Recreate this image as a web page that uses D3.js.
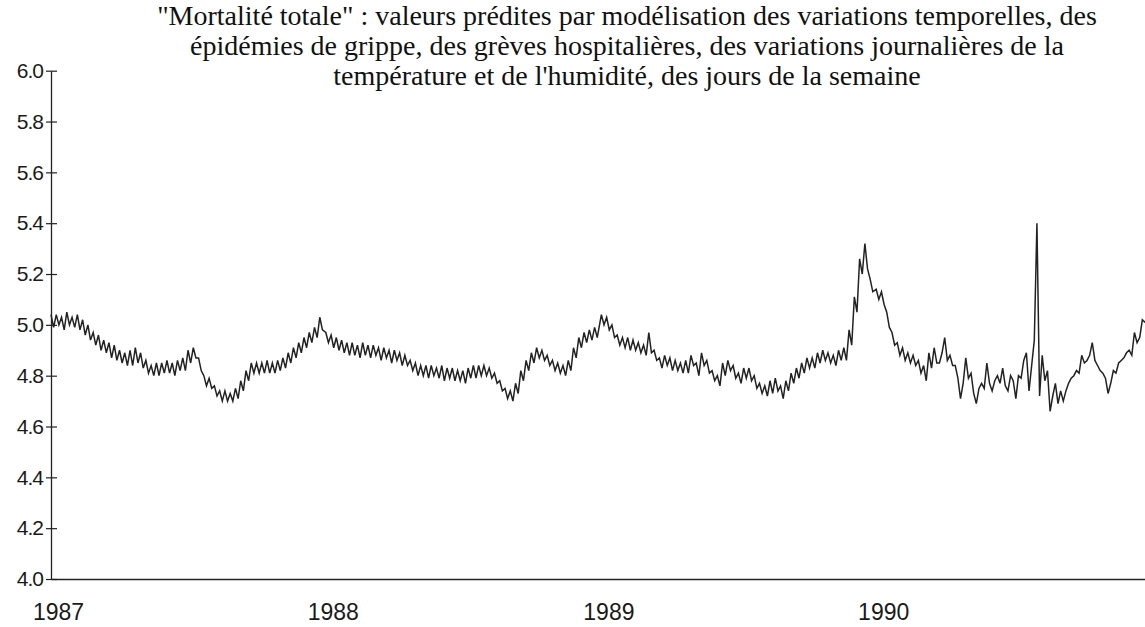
<!DOCTYPE html>
<html><head><meta charset="utf-8">
<script src="https://cdn.jsdelivr.net/npm/d3@7"></script>
<style>body{margin:0;background:#fff}svg{display:block}</style>
</head><body><svg id="c" width="1145" height="627"></svg>
<script>
const years = [1987, 1988, 1989, 1990];
const yTicks = [4.0, 4.2, 4.4, 4.6, 4.8, 5.0, 5.2, 5.4, 5.6, 5.8, 6.0];
const titleLines = [
  "\"Mortalité totale\" : valeurs prédites par modélisation des variations temporelles, des",
  "épidémies de grippe,  des grèves hospitalières, des variations journalières de la",
  "température et de l'humidité, des jours de la semaine"
];
// half-weekly values (every 3.5 days from 1 January of each year)
const v1987 = [5.04,4.99, 5.04,5.00, 5.03,4.98, 5.05,5.00, 5.03,4.99, 5.04,4.98, 5.02,4.96, 5.00,4.94, 4.97,4.92, 4.96,4.90,
4.94,4.89, 4.93,4.87, 4.92,4.86, 4.90,4.85, 4.89,4.84, 4.90,4.84, 4.91,4.85, 4.89,4.83, 4.86,4.81, 4.84,4.80,
4.85,4.80, 4.85,4.81, 4.86,4.81, 4.85,4.80, 4.86,4.82, 4.87,4.82, 4.90,4.85, 4.91,4.87, 4.87,4.82, 4.80,4.76,
4.79,4.75, 4.76,4.72, 4.74,4.70, 4.74,4.70, 4.73,4.70, 4.75,4.71, 4.78,4.74, 4.82,4.78, 4.85,4.81, 4.85,4.81,
4.85,4.81, 4.86,4.81, 4.85,4.81, 4.86,4.82, 4.87,4.83, 4.89,4.85, 4.91,4.87, 4.93,4.89, 4.95,4.91, 4.97,4.93,
4.99,4.95, 5.03,4.98];
const v1988 = [4.97,4.93, 4.96,4.91, 4.95,4.90, 4.94,4.89, 4.93,4.88, 4.93,4.88, 4.92,4.87, 4.93,4.88, 4.92,4.87, 4.92,4.88,
4.91,4.86, 4.91,4.87, 4.90,4.85, 4.90,4.86, 4.89,4.84, 4.88,4.84, 4.86,4.82, 4.85,4.80, 4.84,4.80, 4.84,4.79,
4.84,4.80, 4.83,4.79, 4.84,4.78, 4.83,4.79, 4.83,4.78, 4.82,4.78, 4.82,4.77, 4.83,4.79, 4.84,4.79, 4.84,4.80,
4.84,4.80, 4.83,4.79, 4.81,4.77, 4.78,4.74, 4.75,4.71, 4.74,4.70, 4.77,4.73, 4.82,4.78, 4.86,4.82, 4.89,4.85,
4.91,4.87, 4.90,4.86, 4.88,4.84, 4.86,4.82, 4.85,4.81, 4.84,4.80, 4.86,4.82, 4.91,4.87, 4.95,4.91, 4.97,4.93,
4.98,4.94, 4.99,4.95];
const v1989 = [5.04,5.00, 5.03,4.98, 5.00,4.95, 4.96,4.92, 4.95,4.91, 4.95,4.90, 4.94,4.90, 4.93,4.89, 4.92,4.88, 4.97,4.89,
4.90,4.86, 4.87,4.83, 4.88,4.84, 4.87,4.82, 4.86,4.82, 4.85,4.81, 4.86,4.81, 4.88,4.84, 4.85,4.80, 4.89,4.84,
4.86,4.81, 4.82,4.78, 4.80,4.76, 4.85,4.80, 4.86,4.82, 4.84,4.79, 4.81,4.77, 4.83,4.79, 4.83,4.78, 4.80,4.75,
4.77,4.73, 4.76,4.72, 4.78,4.73, 4.79,4.74, 4.76,4.71, 4.78,4.74, 4.81,4.77, 4.83,4.79, 4.85,4.81, 4.87,4.83,
4.87,4.83, 4.89,4.85, 4.90,4.86, 4.89,4.85, 4.88,4.84, 4.90,4.86, 4.91,4.86, 4.98,4.92, 5.11,5.05, 5.26,5.20,
5.32,5.22, 5.18,5.13];
const v1990 = [5.14,5.10, 5.13,5.08, 5.05,4.99, 4.97,4.92, 4.93,4.88, 4.91,4.86, 4.89,4.85, 4.88,4.84, 4.86,4.81, 4.84,4.78,
4.89,4.83, 4.91,4.85, 4.85,4.89, 4.95,4.86, 4.88,4.84, 4.84,4.79, 4.71,4.77, 4.87,4.79, 4.81,4.73, 4.69,4.75,
4.77,4.75, 4.85,4.77, 4.74,4.78, 4.80,4.77, 4.83,4.76, 4.74,4.80, 4.78,4.71, 4.80,4.79, 4.86,4.89, 4.74,4.84,
4.94,5.40, 4.72,4.88, 4.78,4.82, 4.66,4.72, 4.77,4.69, 4.74,4.70, 4.74,4.77, 4.79,4.80, 4.82,4.81, 4.88,4.85,
4.86,4.88, 4.93,4.86, 4.84,4.82, 4.81,4.79, 4.73,4.77, 4.82,4.81, 4.85,4.86, 4.87,4.89, 4.90,4.88, 4.97,4.93,
4.95,5.02, 5.01,5.03];

const series = [v1987, v1988, v1989, v1990];
const data = [];
series.forEach((arr, k) => arr.forEach((v, i) => {
  data.push({ d: new Date(Date.UTC(years[k], 0, 1) + i * 3.5 * 864e5), v });
}));

const svg = d3.select("#c");
svg.append("rect").attr("width", 1145).attr("height", 627).attr("fill", "#fff");

const x = d3.scaleUtc().domain([Date.UTC(1987, 0, 1), Date.UTC(1991, 0, 1)]).range([51, 1151]);
const y = d3.scaleLinear().domain([4, 6]).range([579, 70.7]);

// title
const t = svg.append("text")
  .attr("font-family", "'Liberation Serif','Times New Roman',serif")
  .attr("font-size", 28).attr("fill", "#111").attr("text-anchor", "middle");
titleLines.forEach((s, i) => t.append("tspan").attr("x", 627).attr("y", 25 + i * 30).text(s));

// y axis
const ya = svg.append("g").attr("transform", "translate(51,0)")
  .call(d3.axisLeft(y).tickValues(yTicks).tickFormat(d3.format(".1f")).tickSize(5).tickSizeOuter(0).tickPadding(3));
ya.select(".domain").attr("stroke", "#222").attr("stroke-width", 1.3);
ya.selectAll(".tick line").attr("x1", 6).attr("x2", -5).attr("stroke", "#222").attr("stroke-width", 1.2);
ya.selectAll(".tick text").attr("font-family", "'Liberation Sans',Arial,sans-serif")
  .attr("font-size", 21).attr("fill", "#1a1a1a").attr("letter-spacing", -1);

// x axis
const xa = svg.append("g").attr("transform", "translate(0,579)")
  .call(d3.axisBottom(x).tickValues(years.map(yr => new Date(Date.UTC(yr, 0, 1))))
    .tickFormat(d3.utcFormat("%Y")).tickSize(0).tickSizeOuter(0));
xa.select(".domain").attr("stroke", "#222").attr("stroke-width", 1.3);
xa.selectAll(".tick text").attr("font-family", "'Liberation Sans',Arial,sans-serif")
  .attr("font-size", 23).attr("fill", "#1a1a1a").attr("dy", 0).attr("y", 41).attr("dx", 7);

// series
svg.append("path").datum(data)
  .attr("fill", "none").attr("stroke", "#222").attr("stroke-width", 1.5).attr("stroke-linejoin", "miter")
  .attr("d", d3.line().x(d => x(d.d)).y(d => y(d.v)));
</script></body></html>
